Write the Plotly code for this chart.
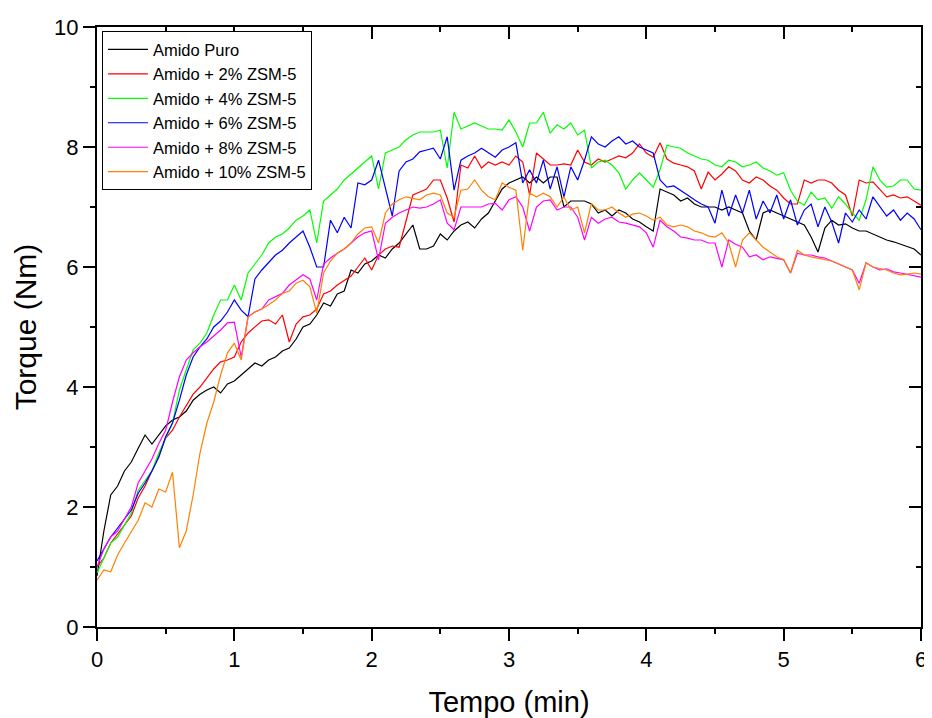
import plotly.graph_objects as go

# time axis: 0 to 6 min, step 0.05 min (121 samples)
tempo = [round(i * 0.05, 2) for i in range(121)]

names = ["Amido Puro", "Amido + 2% ZSM-5", "Amido + 4% ZSM-5",
         "Amido + 6% ZSM-5", "Amido + 8% ZSM-5", "Amido + 10% ZSM-5"]
colors = ["#000000", "#FF0000", "#00FF00", "#0000FF", "#FF00FF", "#FF8000"]

amido_puro = [
    0.85, 1.6, 2.2, 2.35, 2.6, 2.75, 2.98, 3.2, 3.05, 3.2,
    3.35, 3.45, 3.5, 3.6, 3.78, 3.88, 3.95, 4.0, 3.9, 4.05,
    4.1, 4.2, 4.3, 4.4, 4.35, 4.45, 4.5, 4.6, 4.65, 4.8,
    5.0, 5.05, 5.2, 5.4, 5.35, 5.55, 5.6, 5.95, 5.9, 6.05,
    6.1, 6.2, 6.15, 6.3, 6.4, 6.55, 6.7, 6.3, 6.3, 6.35,
    6.55, 6.45, 6.6, 6.7, 6.75, 6.65, 6.8, 6.9, 7.1, 7.3,
    7.4, 7.45, 7.5, 7.4, 7.5, 7.4, 7.5, 7.5, 7.0, 7.1,
    7.1, 7.1, 7.05, 6.9, 6.95, 6.85, 6.95, 6.9, 6.8, 6.75,
    6.67, 6.6, 7.3, 7.25, 7.2, 7.1, 7.15, 7.05, 7.0, 7.0,
    7.0, 6.95, 7.0, 6.95, 6.9, 6.6, 6.45, 6.9, 6.95, 6.9,
    6.85, 6.8, 6.75, 6.7, 6.5, 6.25, 6.65, 6.78, 6.7, 6.72,
    6.65, 6.6, 6.6, 6.55, 6.5, 6.45, 6.42, 6.38, 6.35, 6.3, 6.2,
]

zsm2 = [
    1.0, 1.15, 1.4, 1.55, 1.7, 1.85, 2.15, 2.35, 2.6, 2.85,
    3.15, 3.28, 3.5, 3.7, 3.88, 4.0, 4.15, 4.3, 4.42, 4.45,
    4.5, 4.75, 4.9, 5.0, 5.1, 5.12, 5.05, 5.2, 4.75, 5.05,
    5.17, 5.2, 5.3, 5.55, 5.6, 5.7, 5.78, 5.85, 6.0, 6.15,
    5.95, 6.2, 6.3, 6.35, 6.33, 6.75, 7.2, 7.25, 7.3, 7.45,
    7.45, 7.15, 6.75, 7.7, 7.65, 7.85, 7.65, 7.75, 7.7, 7.75,
    7.7, 7.85, 7.75, 7.2, 7.9, 7.8, 7.7, 7.7, 7.72, 7.7,
    7.95, 7.75, 7.7, 7.8, 7.75, 7.8, 7.85, 7.82, 7.9, 8.05,
    7.9, 7.83, 8.07, 7.8, 7.73, 7.7, 7.67, 7.6, 7.3, 7.58,
    7.45, 7.55, 7.67, 7.6, 7.45, 7.4, 7.5, 7.45, 7.35, 7.28,
    7.15, 7.05, 7.05, 7.45, 7.4, 7.45, 7.45, 7.4, 7.28, 7.2,
    6.85, 7.45, 7.4, 7.42, 7.3, 7.17, 7.2, 7.15, 7.17, 7.1, 7.03,
]

zsm4 = [
    0.9, 1.15, 1.4, 1.5, 1.7, 1.9, 2.28, 2.45, 2.6, 2.9,
    3.15, 3.4, 3.95, 4.3, 4.62, 4.73, 4.9, 5.2, 5.45, 5.45,
    5.7, 5.45, 5.9, 6.05, 6.2, 6.4, 6.5, 6.55, 6.65, 6.78,
    6.85, 6.95, 6.4, 7.1, 7.2, 7.3, 7.45, 7.55, 7.65, 7.75,
    7.85, 7.3, 7.9, 7.95, 8.0, 8.12, 8.2, 8.25, 8.25, 8.25,
    8.28, 7.65, 8.58, 8.3, 8.35, 8.4, 8.35, 8.3, 8.3, 8.28,
    8.45, 8.25, 8.0, 8.4, 8.4, 8.58, 8.23, 8.37, 8.3, 8.4,
    8.2, 8.28, 7.65, 7.75, 7.78, 7.7, 7.57, 7.3, 7.45, 7.57,
    7.45, 7.33, 7.62, 8.03, 8.0, 7.98, 7.9, 7.85, 7.8, 7.78,
    7.7, 7.67, 7.78, 7.75, 7.67, 7.7, 7.75, 7.65, 7.6, 7.53,
    7.57, 7.28, 7.1, 7.03, 7.25, 7.12, 7.15, 6.98, 7.17, 7.05,
    6.9, 6.78, 7.12, 7.67, 7.45, 7.33, 7.35, 7.45, 7.45, 7.3, 7.28,
]

zsm6 = [
    1.1, 1.3, 1.5, 1.65, 1.8, 1.95, 2.23, 2.4, 2.6, 2.83,
    3.17, 3.4, 3.78, 4.2, 4.5, 4.67, 4.8, 5.0, 5.1, 5.25,
    5.45, 5.28, 5.17, 5.8, 5.95, 6.07, 6.2, 6.28, 6.4, 6.5,
    6.6, 6.33, 6.0, 6.0, 6.78, 6.57, 6.83, 6.65, 7.4, 7.37,
    7.45, 7.78, 7.33, 6.85, 7.6, 7.75, 7.8, 7.92, 7.95, 7.98,
    7.8, 8.17, 7.28, 7.78, 7.85, 7.9, 7.98, 7.9, 7.83, 7.95,
    8.0, 8.07, 7.4, 7.62, 7.4, 7.78, 7.3, 7.67, 7.17, 7.67,
    7.45, 7.78, 8.17, 8.05, 8.0, 8.1, 8.17, 8.05, 8.1, 8.0,
    7.95, 7.9, 7.45, 7.33, 7.35, 7.28, 7.2, 7.12, 7.05, 7.0,
    6.73, 7.28, 6.85, 7.2, 6.9, 7.28, 6.8, 7.1, 6.9, 7.2,
    6.8, 7.12, 6.7, 6.95, 7.05, 6.67, 7.0, 6.75, 6.4, 6.9,
    6.75, 6.95, 6.8, 7.17, 7.0, 6.85, 6.95, 6.78, 6.9, 6.8, 6.62,
]

zsm8 = [
    1.0, 1.3, 1.5, 1.6, 1.8, 2.0, 2.4, 2.6, 2.8, 3.06,
    3.28, 3.75, 4.17, 4.45, 4.57, 4.67, 4.75, 4.85, 4.95, 5.07,
    5.08, 4.5, 5.17, 5.25, 5.3, 5.45, 5.5, 5.56, 5.7, 5.78,
    5.87, 5.8, 5.45, 6.05, 6.15, 6.23, 6.3, 6.4, 6.5, 6.57,
    6.6, 6.12, 6.73, 6.83, 6.9, 6.95, 7.0, 6.98, 7.0, 7.05,
    7.12, 6.73, 6.62, 7.0, 7.0, 7.0, 7.0, 7.05, 7.06, 6.95,
    7.12, 7.17, 7.0, 6.6, 7.0, 7.1, 7.12, 6.95, 7.0, 7.0,
    6.83, 6.45, 6.83, 6.73, 6.8, 6.83, 6.75, 6.73, 6.7, 6.67,
    6.57, 6.33, 6.78, 6.67, 6.6, 6.5, 6.48, 6.45, 6.45, 6.4,
    6.4, 6.0, 6.45, 6.38, 6.33, 6.17, 6.2, 6.12, 6.17, 6.15,
    6.12, 5.9, 6.23, 6.2, 6.2, 6.17, 6.15, 6.1, 6.05, 6.0,
    5.95, 5.73, 6.07, 6.0, 5.95, 5.97, 5.92, 5.9, 5.88, 5.85, 5.83,
]

zsm10 = [
    0.78, 0.95, 0.92, 1.2, 1.4, 1.6, 1.78, 2.07, 2.0, 2.3,
    2.25, 2.58, 1.32, 1.6, 2.2, 2.9, 3.4, 3.75, 4.2, 4.57,
    4.73, 4.45, 5.17, 5.25, 5.3, 5.37, 5.45, 5.56, 5.6, 5.73,
    5.78, 5.67, 5.23, 5.9, 6.1, 6.23, 6.3, 6.4, 6.55, 6.65,
    6.67, 6.4, 6.9, 7.05, 7.12, 7.17, 7.15, 7.12, 7.2, 7.23,
    7.2, 6.9, 6.83, 7.28, 7.3, 7.45, 7.28, 7.17, 7.12, 7.4,
    7.33, 7.28, 6.28, 7.23, 7.17, 7.23, 7.17, 7.0, 7.17, 6.95,
    7.0, 6.57, 7.06, 6.95, 6.95, 7.0, 6.9, 6.83, 6.88, 6.9,
    6.85, 6.78, 6.83, 6.7, 6.67, 6.7, 6.67, 6.6, 6.57, 6.52,
    6.5, 6.57, 6.4, 6.0, 6.45, 6.57, 6.45, 6.33, 6.25, 6.17,
    6.12, 5.9, 6.28, 6.2, 6.17, 6.15, 6.12, 6.1, 6.05, 6.0,
    5.95, 5.62, 6.07, 6.0, 5.98, 5.95, 5.9, 5.87, 5.88, 5.9, 5.88,
]

series = [amido_puro, zsm2, zsm4, zsm6, zsm8, zsm10]

x_ticks = [0, 1, 2, 3, 4, 5, 6]
y_ticks = [0, 2, 4, 6, 8, 10]

FONT = "Liberation Sans, Arial, sans-serif"

fig = go.Figure()
for name, col, vals in zip(names, colors, series):
    fig.add_trace(go.Scatter(x=tempo, y=vals, mode="lines", name=name,
                             line=dict(color=col, width=1.2)))

# helper trace so the mirrored (top/right) axes get drawn
fig.add_trace(go.Scatter(x=[None], y=[None], xaxis="x2", yaxis="y2",
                         showlegend=False, hoverinfo="skip"))

base_ax = dict(showgrid=False, zeroline=False, linecolor="black", linewidth=2,
               tickcolor="black", tickwidth=1.5, ticklen=12, automargin=False)
lab_font = dict(family=FONT, size=22, color="black")
minor_out = dict(ticks="outside", ticklen=5, tickcolor="black", tickwidth=1.5)
minor_in = dict(ticks="inside", ticklen=5, tickcolor="black", tickwidth=1.5)

# the page body has an 8px default margin, so the figure is sized to fit the window
fig.update_layout(
    width=924, height=710,
    margin=dict(l=89, r=11, t=19, b=91),
    paper_bgcolor="white", plot_bgcolor="white",
    font=dict(family=FONT, color="black"),
    xaxis=dict(range=[0, 6], tickvals=x_ticks, ticks="outside", tickfont=lab_font,
               minor=dict(dtick=0.5, **minor_out),
               title=dict(text="Tempo (min)", font=dict(family=FONT, size=29), standoff=24),
               **base_ax),
    yaxis=dict(range=[0, 10], tickvals=y_ticks, ticks="outside", tickfont=lab_font,
               minor=dict(dtick=1, **minor_out),
               title=dict(text="Torque (Nm)", font=dict(family=FONT, size=30), standoff=9),
               **base_ax),
    xaxis2=dict(range=[0, 6], overlaying="x", side="top", anchor="y2",
                tickvals=x_ticks, ticks="inside", showticklabels=False,
                minor=dict(dtick=0.5, **minor_in), **base_ax),
    yaxis2=dict(range=[0, 10], overlaying="y", side="right", anchor="x2",
                tickvals=y_ticks, ticks="inside", showticklabels=False,
                minor=dict(dtick=1, **minor_in), **base_ax),
    legend=dict(x=0.006, y=0.993, xanchor="left", yanchor="top",
                bgcolor="white", bordercolor="black", borderwidth=1,
                font=dict(family=FONT, size=16.5, color="black"),
                itemwidth=40, tracegroupgap=0),
    showlegend=True,
)

fig.write_html("out.html")
